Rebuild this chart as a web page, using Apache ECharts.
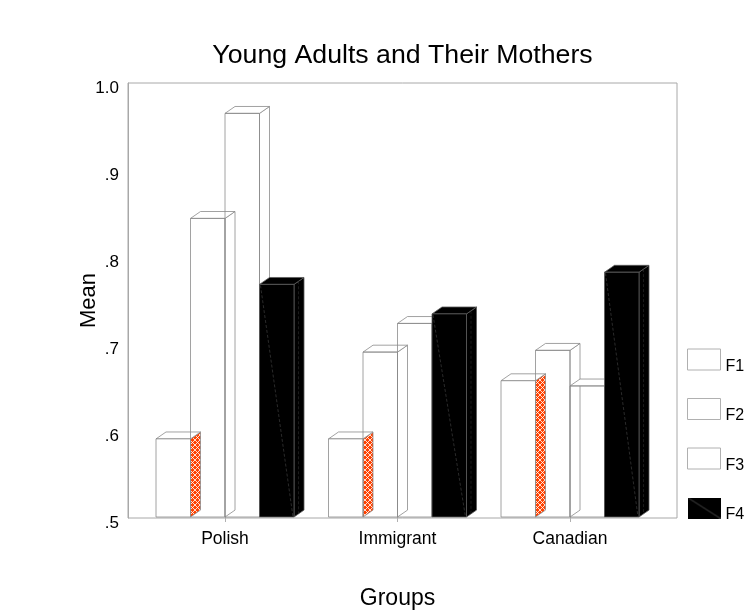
<!DOCTYPE html>
<html>
<head>
<meta charset="utf-8">
<script src="https://cdn.jsdelivr.net/npm/echarts@6/dist/echarts.min.js"></script>
<style>
  html, body { margin: 0; padding: 0; background: #fff; }
  #chart { width: 752px; height: 615px; }
</style>
</head>
<body>
<div id="chart"></div>
<script>
// Group means per factor
const groups = ['Polish', 'Immigrant', 'Canadian'];
const factorNames = ['F1', 'F2', 'F3', 'F4'];
const f1 = [0.590, 0.590, 0.657];
const f2 = [0.844, 0.690, 0.692];
const f3 = [0.965, 0.723, 0.651];
const f4 = [0.768, 0.734, 0.782];
const yMin = 0.5, yMax = 1.0, yStep = 0.1;

const FONT = '"Liberation Sans", Arial, Helvetica, sans-serif';
const EDGE = '#8a8a8a';

// Orange lattice fill for the F1 side faces
const latticeCanvas = document.createElement('canvas');
latticeCanvas.width = 5; latticeCanvas.height = 5;
(function () {
  const g = latticeCanvas.getContext('2d');
  g.fillStyle = '#ff4200';
  g.fillRect(0, 0, 5, 5);
  g.strokeStyle = 'rgba(255,255,255,0.9)';
  g.lineWidth = 0.9;
  g.beginPath();
  g.moveTo(0, 0); g.lineTo(5, 5);
  g.moveTo(5, 0); g.lineTo(0, 5);
  g.stroke();
})();
const lattice = { image: latticeCanvas, repeat: 'repeat' };

// Legend swatch for F4: black with a faint diagonal
const f4Icon = (function () {
  const c = document.createElement('canvas');
  c.width = 33; c.height = 21;
  const g = c.getContext('2d');
  g.fillStyle = '#000'; g.fillRect(0, 0, 33, 21);
  g.strokeStyle = '#555'; g.lineWidth = 0.8;
  g.beginPath(); g.moveTo(0, 0); g.lineTo(33, 21); g.stroke();
  return 'image://' + c.toDataURL();
})();

const faceStyles = [
  { front: '#fff', side: lattice, top: '#fff', stroke: EDGE },
  { front: 'none', side: 'none', top: '#fff', stroke: EDGE },
  { front: 'none', side: 'none', top: '#fff', stroke: EDGE },
  { front: '#000', side: '#000', top: '#000', stroke: '#5a5a5a' }
];

// Draws one 3D-looking bar (front, top and right side) from the axis scales
function renderBar(params, api) {
  const si = params.seriesIndex;
  const cat = api.value(0), val = api.value(1);
  const topPt = api.coord([cat, val]);
  const basePt = api.coord([cat, yMin]);
  const band = api.size([1, 0])[0];
  const bw = band * 0.2;
  const x1 = topPt[0] - 2 * bw + si * bw;
  const x2 = x1 + bw;
  const yt = topPt[1], yb = basePt[1];
  const dx = bw * 0.29, dy = bw * 0.2;
  const st = faceStyles[si];
  const children = [
    {
      type: 'polygon',
      shape: { points: [[x2, yt], [x2 + dx, yt - dy], [x2 + dx, yb - dy], [x2, yb]] },
      style: { fill: st.side, stroke: st.stroke, lineWidth: 0.8 }
    },
    {
      type: 'polygon',
      shape: { points: [[x1, yt], [x1 + dx, yt - dy], [x2 + dx, yt - dy], [x2, yt]] },
      style: { fill: st.top, stroke: st.stroke, lineWidth: 0.8 }
    },
    {
      type: 'rect',
      shape: { x: x1, y: yt, width: bw, height: yb - yt },
      style: { fill: st.front, stroke: st.stroke, lineWidth: 0.8 }
    }
  ];
  if (si === 3) {
    children.push({
      type: 'line',
      shape: { x1: x1 + 1, y1: yt + 1, x2: x2 - 1, y2: yb },
      style: { stroke: '#3c3c3c', lineWidth: 0.7, lineDash: [3, 2] }
    });
    children.push({
      type: 'line',
      shape: { x1: x2 + dx * 0.45, y1: yt - dy * 0.45, x2: x2 + dx * 0.45, y2: yb - dy * 0.45 },
      style: { stroke: '#2e2e2e', lineWidth: 0.6, lineDash: [3, 2] }
    });
  }
  return { type: 'group', children: children };
}

const seriesData = [f1, f2, f3, f4];

const chart = echarts.init(document.getElementById('chart'), null, { renderer: 'canvas' });
chart.setOption({
  backgroundColor: '#fff',
  animation: false,
  textStyle: { fontFamily: FONT },
  title: {
    text: 'Young Adults and Their Mothers',
    left: 397.5,
    top: 37,
    textAlign: 'center',
    textStyle: { fontFamily: FONT, fontSize: 26.7, fontWeight: 'normal', color: '#000' }
  },
  legend: {
    orient: 'vertical',
    left: 682,
    top: 339.5,
    itemWidth: 33,
    itemHeight: 21,
    itemGap: 19.5,
    selectedMode: false,
    formatter: '{t|{name}}',
    textStyle: {
      fontFamily: FONT, fontSize: 16, color: '#000',
      rich: { t: { fontFamily: FONT, fontSize: 16, color: '#000', lineHeight: 16, padding: [14, 0, 0, 0] } }
    },
    data: [
      { name: 'F1', icon: 'rect', itemStyle: { color: '#fff', borderColor: '#b0b0b0', borderWidth: 1 } },
      { name: 'F2', icon: 'rect', itemStyle: { color: '#fff', borderColor: '#b0b0b0', borderWidth: 1 } },
      { name: 'F3', icon: 'rect', itemStyle: { color: '#fff', borderColor: '#b0b0b0', borderWidth: 1 } },
      { name: 'F4', icon: f4Icon, itemStyle: { color: '#000' } }
    ]
  },
  grid: [
    // frame and value axis
    { left: 128, right: 75, top: 83, bottom: 97, show: true, borderColor: '#a8a8a8', borderWidth: 1, backgroundColor: 'transparent' },
    // bar area
    { left: 138.75, right: 95.75, top: 83, bottom: 97 }
  ],
  xAxis: [
    { gridIndex: 0, type: 'value', show: false, min: 0, max: 1 },
    {
      gridIndex: 1,
      type: 'category',
      data: groups,
      boundaryGap: true,
      axisLine: { show: false },
      axisTick: { show: true, alignWithLabel: true, length: 5, lineStyle: { color: '#b0b0b0' } },
      axisLabel: { fontFamily: FONT, fontSize: 17.5, color: '#000', margin: 13 },
      name: 'Groups',
      nameLocation: 'middle',
      nameGap: 70,
      nameMoveOverlap: false,
      nameTextStyle: { fontFamily: FONT, fontSize: 23, color: '#000' }
    }
  ],
  yAxis: [
    {
      gridIndex: 0,
      type: 'value',
      min: yMin,
      max: yMax,
      interval: yStep,
      axisLine: { show: true, lineStyle: { color: '#a8a8a8' } },
      axisTick: { show: false },
      splitLine: { show: false },
      axisLabel: {
        fontFamily: FONT, fontSize: 17, color: '#000', margin: 9,
        formatter: function (v) { return '{v|' + (v >= 0.999 ? '1.0' : '.' + Math.round(v * 10)) + '}'; },
        rich: { v: { fontFamily: FONT, fontSize: 17, color: '#000', lineHeight: 17, padding: [10, 0, 0, 0] } }
      },
      name: 'Mean',
      nameLocation: 'middle',
      nameGap: 28,
      nameRotate: 90,
      nameMoveOverlap: false,
      nameTextStyle: { fontFamily: FONT, fontSize: 22, color: '#000' }
    },
    { gridIndex: 1, type: 'value', min: yMin, max: yMax, interval: yStep, show: false }
  ],
  series: seriesData.map(function (vals, k) {
    return {
      name: factorNames[k],
      type: 'custom',
      xAxisIndex: 1,
      yAxisIndex: 1,
      renderItem: renderBar,
      encode: { x: 0, y: 1 },
      itemStyle: { color: k === 3 ? '#000' : '#fff' },
      data: vals.map(function (v, i) { return [i, v]; })
    };
  })
});
</script>
</body>
</html>
